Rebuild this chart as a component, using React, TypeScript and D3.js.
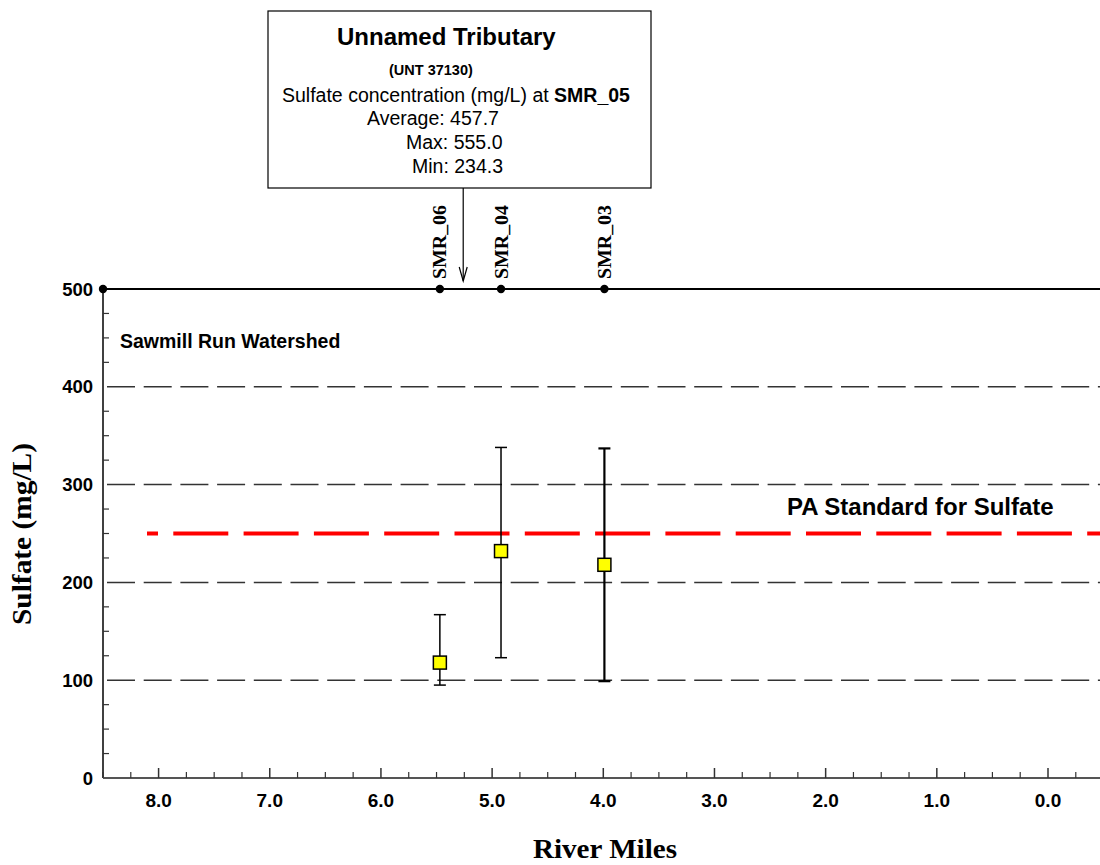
import React from 'react';
import * as d3 from 'd3';

// Sampling stations along Sawmill Run (river miles)
const stations = ['SMR_06', 'SMR_04', 'SMR_03'];
const stationMiles = [5.47, 4.92, 3.99];
const sulfateMean = [118, 232, 218];
const sulfateMax = [167, 338, 337];
const sulfateMin = [95, 123, 99];

const sourceMile = 8.5;
const tributaryMile = 5.26;
const paStandard = 250;

const xTicks = [8, 7, 6, 5, 4, 3, 2, 1, 0];
const yTicks = [0, 100, 200, 300, 400, 500];
const gridValues = [100, 200, 300, 400];

const tributaryLines = ['Average: 457.7', 'Max: 555.0', 'Min: 234.3'];

const W = 1100;
const H = 865;
const sans = 'Arial, "Liberation Sans", sans-serif';
const serif = '"Times New Roman", "Liberation Serif", serif';

const App: React.FC = () => {
  const x = d3.scaleLinear().domain([8.5, 0]).range([103, 1048]);
  const y = d3.scaleLinear().domain([0, 500]).range([778, 289]);

  const left = x(8.5);
  const right = W;
  const minorX = d3.range(8.5, -0.5, -0.25).filter(v => Math.abs(v - Math.round(v)) > 0.01);
  const minorY = d3.range(25, 500, 25).filter(v => v % 100 !== 0);

  const redStart = 147;
  const redPeriod = 70.3;
  const redOffset = (redStart - left) % redPeriod;

  return (
    <svg width={W} height={H} style={{ position: 'absolute', left: 0, top: 0, background: '#fff' }}>
      {/* dashed grid */}
      {gridValues.map(v => (
        <line key={v} x1={left + 4} x2={right} y1={y(v)} y2={y(v)}
          stroke="#333" strokeWidth={1.5} strokeDasharray="28 8.7" />
      ))}

      {/* PA standard */}
      <line x1={redStart} x2={right} y1={y(paStandard)} y2={y(paStandard)}
        stroke="#ff0000" strokeWidth={4} strokeDasharray="55 15.3" strokeDashoffset={redOffset} />
      <text x={787} y={515} fontFamily={sans} fontWeight="bold" fontSize={24} fill="#000">
        PA Standard for Sulfate
      </text>

      {/* axes */}
      <line x1={left} x2={left} y1={y(500)} y2={y(0)} stroke="#000" strokeWidth={1.5} />
      <line x1={left} x2={right} y1={y(0)} y2={y(0)} stroke="#555" strokeWidth={2} />
      <line x1={left} x2={right} y1={y(500)} y2={y(500)} stroke="#000" strokeWidth={2} />

      {xTicks.map(v => (
        <g key={v}>
          <line x1={x(v)} x2={x(v)} y1={y(0)} y2={y(0) - 10} stroke="#333" strokeWidth={1.5} />
          <text x={x(v)} y={807} textAnchor="middle" fontFamily={sans} fontWeight="bold" fontSize={19}>
            {v.toFixed(1)}
          </text>
        </g>
      ))}
      {minorX.map(v => (
        <line key={v} x1={x(v)} x2={x(v)} y1={y(0)} y2={y(0) - 6} stroke="#333" strokeWidth={1.2} />
      ))}
      {minorY.map(v => (
        <line key={v} x1={left} x2={left + 6} y1={y(v)} y2={y(v)} stroke="#333" strokeWidth={1.2} />
      ))}
      {yTicks.map(v => (
        <text key={v} x={93} y={y(v) + 6.5} textAnchor="end" fontFamily={sans} fontWeight="bold" fontSize={18.5}>
          {v}
        </text>
      ))}

      {/* axis titles */}
      <text transform={`translate(31,534) rotate(-90)`} textAnchor="middle" fontFamily={serif}
        fontWeight="bold" fontSize={27} textLength={182} lengthAdjust="spacingAndGlyphs">
        Sulfate (mg/L)
      </text>
      <text x={605} y={858} textAnchor="middle" fontFamily={serif} fontWeight="bold" fontSize={27}
        textLength={144} lengthAdjust="spacingAndGlyphs">
        River Miles
      </text>

      <text x={120} y={348} fontFamily={sans} fontWeight="bold" fontSize={19.5}>
        Sawmill Run Watershed
      </text>

      {/* stations on the top line */}
      <circle cx={x(sourceMile)} cy={y(500)} r={4.2} fill="#000" />
      {stations.map((s, i) => (
        <g key={s}>
          <circle cx={x(stationMiles[i])} cy={y(500)} r={4.2} fill="#000" />
          <text transform={`translate(${x(stationMiles[i]) + 6.5},279) rotate(-90)`} fontFamily={serif}
            fontWeight="bold" fontSize={19} textLength={74} lengthAdjust="spacingAndGlyphs">
            {s}
          </text>
        </g>
      ))}

      {/* error bars and means */}
      {stations.map((s, i) => {
        const cx = x(stationMiles[i]);
        const sw = i === 2 ? 2.2 : 1.5;
        return (
          <g key={s} stroke="#000" strokeWidth={sw}>
            <line x1={cx} x2={cx} y1={y(sulfateMax[i])} y2={y(sulfateMin[i])} />
            <line x1={cx - 6} x2={cx + 6} y1={y(sulfateMax[i])} y2={y(sulfateMax[i])} />
            <line x1={cx - 6} x2={cx + 6} y1={y(sulfateMin[i])} y2={y(sulfateMin[i])} />
            <rect x={cx - 6.5} y={y(sulfateMean[i]) - 6.5} width={13} height={13}
              fill="#ffff00" strokeWidth={1.5} />
          </g>
        );
      })}

      {/* tributary annotation */}
      <rect x={268} y={11} width={383} height={177} fill="#fff" stroke="#000" strokeWidth={1.2} />
      <text x={337} y={45} fontFamily={sans} fontWeight="bold" fontSize={24}>Unnamed Tributary</text>
      <text x={389} y={75} fontFamily={sans} fontWeight="bold" fontSize={14.5}>(UNT 37130)</text>
      <text x={282} y={102} fontFamily={sans} fontSize={19.5}>
        Sulfate concentration (mg/L) at <tspan fontWeight="bold">SMR_05</tspan>
      </text>
      {tributaryLines.map((t, i) => (
        <text key={t} x={[367, 406, 412][i]} y={125 + i * 24} fontFamily={sans} fontSize={19.5}>{t}</text>
      ))}
      <g stroke="#000" strokeWidth={1.2} fill="none">
        <line x1={x(tributaryMile)} x2={x(tributaryMile)} y1={188} y2={281} />
        <polyline points={`${x(tributaryMile) - 4},267 ${x(tributaryMile)},281 ${x(tributaryMile) + 4},267`} />
      </g>
    </svg>
  );
};

export default App;
